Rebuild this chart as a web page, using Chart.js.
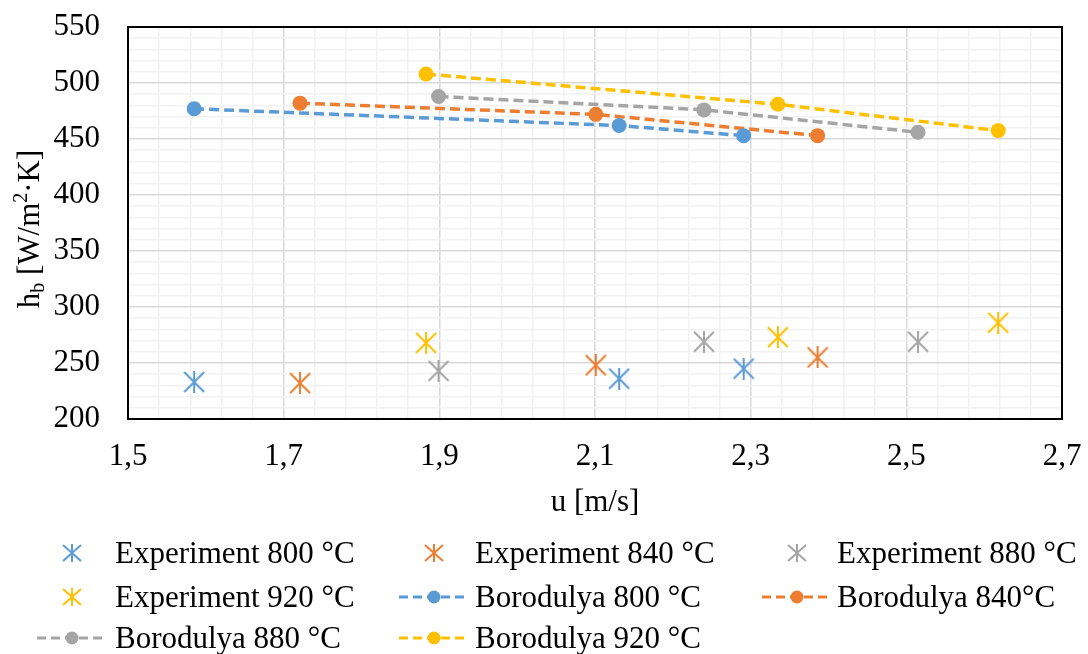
<!DOCTYPE html>
<html>
<head>
<meta charset="utf-8">
<script src="https://cdn.jsdelivr.net/npm/chart.js@4.4.0/dist/chart.umd.min.js"></script>
<style>
  body { margin: 0; background: #fff; }
  #wrap { position: relative; width: 1088px; height: 654px; font-family: "Liberation Serif", "Times New Roman", serif; }
  #chart { position: absolute; left: 0; top: 0; }
  .item { position: absolute; font-size: 31px; line-height: 36px; white-space: nowrap; color: #000; }
  .mark { position: absolute; }
</style>
</head>
<body>
<div id="wrap">
  <canvas id="chart" width="1088" height="654"></canvas>
  <div id="legend"></div>
</div>
<script>
// velocities u [m/s] for each temperature
const u800 = [1.585, 2.131, 2.291];
const u840 = [1.721, 2.101, 2.386];
const u880 = [1.899, 2.240, 2.515];
const u920 = [1.883, 2.335, 2.618];

// measured h_b
const exp800 = [233, 236, 245];
const exp840 = [232, 248, 255];
const exp880 = [243, 269, 269];
const exp920 = [268, 273, 286];

// Borodulya correlation
const bor800 = [477, 462, 453];
const bor840 = [482, 472, 453];
const bor880 = [488, 476, 456];
const bor920 = [508, 481, 457.5];

const xTicks = [1.5, 1.7, 1.9, 2.1, 2.3, 2.5, 2.7];
const yTicks = [200, 250, 300, 350, 400, 450, 500, 550];

const BLUE = '#5B9BD5', ORANGE = '#ED7D31', GRAY = '#A5A5A5', YELLOW = '#FFC000';
const FONT = '"Liberation Serif", "Times New Roman", serif';

function makeStar(color, size) {
    const c = document.createElement('canvas');
    c.width = size; c.height = size;
    const g = c.getContext('2d');
    g.strokeStyle = color;
    g.lineWidth = 2;
    g.beginPath();
    g.moveTo(size / 2, 0); g.lineTo(size / 2, size);
    g.moveTo(1, 1); g.lineTo(size - 1, size - 1);
    g.moveTo(size - 1, 1); g.lineTo(1, size - 1);
    g.stroke();
    return c;
}

const pts = (xs, ys) => xs.map((x, i) => ({ x: x, y: ys[i] }));

function expSet(label, xs, ys, color) {
    return {
        label: label,
        data: pts(xs, ys),
        pointStyle: makeStar(color, 22),
        pointRadius: 11,
        borderColor: color,
        backgroundColor: color,
        showLine: false
    };
}

function borSet(label, xs, ys, color) {
    return {
        label: label,
        data: pts(xs, ys),
        showLine: true,
        borderColor: color,
        backgroundColor: color,
        borderWidth: 3.5,
        borderDash: [10, 5],
        pointRadius: 7.5,
        pointBorderWidth: 0,
        pointBackgroundColor: color
    };
}

const datasets = [
    expSet('Experiment 800 °C', u800, exp800, BLUE),
    expSet('Experiment 840 °C', u840, exp840, ORANGE),
    expSet('Experiment 880 °C', u880, exp880, GRAY),
    expSet('Experiment 920 °C', u920, exp920, YELLOW),
    borSet('Borodulya 800 °C', u800, bor800, BLUE),
    borSet('Borodulya 840°C', u840, bor840, ORANGE),
    borSet('Borodulya 880 °C', u880, bor880, GRAY),
    borSet('Borodulya 920 °C', u920, bor920, YELLOW)
];

const near = (v, list) => list.some(t => Math.abs(t - v) < 1e-6);

// frame around plot + axis titles (with sub/superscripts)
const decor = {
    id: 'decor',
    afterDraw(chart) {
        const { ctx, chartArea: a } = chart;
        ctx.save();
        ctx.strokeStyle = '#000';
        ctx.lineWidth = 2;
        ctx.strokeRect(a.left, a.top, a.right - a.left, a.bottom - a.top);

        ctx.fillStyle = '#000';
        ctx.font = '31px ' + FONT;
        ctx.textAlign = 'center';
        ctx.textBaseline = 'middle';
        ctx.fillText('u [m/s]', (a.left + a.right) / 2, 503);

        const parts = [
            { t: 'h', s: 31, dy: 0 },
            { t: 'b', s: 20, dy: 5 },
            { t: ' [W/m', s: 31, dy: 0 },
            { t: '2', s: 20, dy: -12 },
            { t: '·K]', s: 31, dy: 0 }
        ];
        let total = 0;
        parts.forEach(p => {
            ctx.font = p.s + 'px ' + FONT;
            p.w = ctx.measureText(p.t).width;
            total += p.w;
        });
        ctx.translate(39, (a.top + a.bottom) / 2 + 6);
        ctx.rotate(-Math.PI / 2);
        ctx.textAlign = 'left';
        ctx.textBaseline = 'alphabetic';
        let x = -total / 2;
        parts.forEach(p => {
            ctx.font = p.s + 'px ' + FONT;
            ctx.fillText(p.t, x, p.dy);
            x += p.w;
        });
        ctx.restore();
    }
};

Chart.defaults.color = '#000';

new Chart(document.getElementById('chart'), {
    type: 'scatter',
    data: { datasets: datasets },
    plugins: [decor],
    options: {
        responsive: false,
        animation: false,
        devicePixelRatio: 1,
        layout: { padding: { top: 27, right: 26, left: 0, bottom: 0 } },
        plugins: { legend: { display: false }, tooltip: { enabled: false } },
        scales: {
            x: {
                type: 'linear',
                min: 1.5,
                max: 2.7,
                afterFit: s => { s.height = 235; s.paddingLeft = 0; s.paddingRight = 0; },
                border: { display: false },
                grid: {
                    drawTicks: false,
                    lineWidth: 1.5,
                    color: c => near(c.tick.value, xTicks) ? '#d9d9d9' : '#f2f2f2'
                },
                ticks: {
                    stepSize: 0.04,
                    autoSkip: false,
                    maxRotation: 0,
                    padding: 19,
                    font: { family: FONT, size: 31 },
                    callback: v => near(v, xTicks) ? v.toFixed(1).replace('.', ',') : ''
                }
            },
            y: {
                min: 200,
                max: 550,
                afterFit: s => { s.width = 128; s.paddingTop = 0; s.paddingBottom = 0; },
                border: { display: false },
                grid: {
                    drawTicks: false,
                    lineWidth: 1.5,
                    color: c => near(c.tick.value, yTicks) ? '#d9d9d9' : '#f2f2f2'
                },
                ticks: {
                    stepSize: 10,
                    autoSkip: false,
                    padding: 28,
                    font: { family: FONT, size: 31 },
                    callback: v => near(v, yTicks) ? String(v) : ''
                }
            }
        }
    }
});

// legend below the chart, three columns
const rowsY = [553, 597, 638];
const markX = [72, 434, 797];
const textX = [115, 475, 837];
const legend = document.getElementById('legend');
const svgNS = 'http://www.w3.org/2000/svg';

datasets.forEach((ds, i) => {
    const row = Math.floor(i / 3), col = i % 3;
    const cy = rowsY[row], cx = markX[col];
    const svg = document.createElementNS(svgNS, 'svg');
    svg.setAttribute('class', 'mark');
    if (ds.showLine) {
        svg.setAttribute('width', 70); svg.setAttribute('height', 16);
        svg.style.left = (cx - 35) + 'px'; svg.style.top = (cy - 8) + 'px';
        svg.innerHTML = `<line x1="0" y1="8" x2="70" y2="8" stroke="${ds.borderColor}" stroke-width="3" stroke-dasharray="9 5"/>` +
            `<circle cx="35" cy="8" r="6.5" fill="${ds.borderColor}"/>`;
    } else {
        svg.setAttribute('width', 20); svg.setAttribute('height', 18);
        svg.style.left = (cx - 10) + 'px'; svg.style.top = (cy - 9) + 'px';
        svg.innerHTML = `<path d="M10 0V18M1 1L19 17M19 1L1 17" stroke="${ds.borderColor}" stroke-width="2" fill="none"/>`;
    }
    legend.appendChild(svg);
    const div = document.createElement('div');
    div.className = 'item';
    div.style.left = textX[col] + 'px';
    div.style.top = (cy - 18) + 'px';
    div.textContent = ds.label;
    legend.appendChild(div);
});
</script>
</body>
</html>
